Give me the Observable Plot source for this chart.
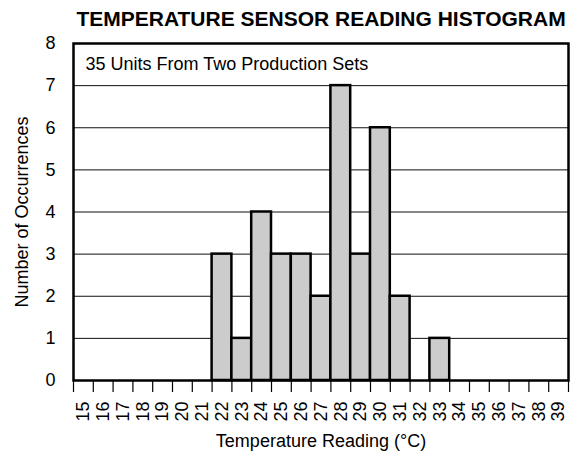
<!DOCTYPE html>
<html>
<head>
<meta charset="utf-8">
<script src="https://cdn.jsdelivr.net/npm/d3@7"></script>
<script src="https://cdn.jsdelivr.net/npm/@observablehq/plot@0.6"></script>
<style>
  html, body { margin: 0; padding: 0; background: #fff; }
</style>
</head>
<body>
<div id="chart"></div>
<script>
const temps = [15,16,17,18,19,20,21,22,23,24,25,26,27,28,29,30,31,32,33,34,35,36,37,38,39];
const counts = [0,0,0,0,0,0,0,3,1,4,3,3,2,7,3,6,2,0,1,0,0,0,0,0,0];
const yTicks = [0,1,2,3,4,5,6,7,8];
const title = "TEMPERATURE SENSOR READING HISTOGRAM";
const subtitle = "35 Units From Two Production Sets";
const xTitle = "Temperature Reading (°C)";
const yTitle = "Number of Occurrences";

const rows = temps.map((t, i) => ({t, n: counts[i]}));
const bars = rows.filter(d => d.n > 0);
const edges = temps.concat([temps[temps.length - 1] + 1]);

const chart = Plot.plot({
  width: 577,
  height: 453,
  marginLeft: 73,
  marginRight: 9,
  marginTop: 43,
  marginBottom: 73,
  style: {fontFamily: "'Liberation Sans', Arial, Helvetica, sans-serif", fontSize: "18px", color: "black", background: "white", overflow: "visible"},
  x: {type: "linear", domain: [temps[0], edges[edges.length - 1]]},
  y: {domain: [0, 8]},
  marks: [
    Plot.ruleY(yTicks.slice(1, -1), {stroke: "#111", strokeWidth: 1}),
    Plot.rectY(bars, {x1: "t", x2: d => d.t + 1, y: "n", fill: "#cccccc", stroke: "black", strokeWidth: 2.5}),
    Plot.axisX({ticks: edges, tickSize: 12, tickFormat: () => "", label: null, stroke: "black", strokeWidth: 1.2}),
    Plot.text(temps, {x: d => d + 0.5, text: d => String(d), frameAnchor: "bottom", rotate: -90, textAnchor: "end", lineAnchor: "middle", dy: 21, fontSize: 18, fill: "black"}),
    Plot.axisY({ticks: yTicks, tickSize: 0, tickPadding: 18, fontSize: 18, label: null, tickFormat: d => String(d)}),
    Plot.frame({stroke: "black", strokeWidth: 2.5}),
    Plot.text([subtitle], {frameAnchor: "top-left", textAnchor: "start", lineAnchor: "middle", dx: 12, dy: 21, fontSize: 18, fill: "black"}),
    Plot.text([title], {frameAnchor: "top", textAnchor: "middle", lineAnchor: "middle", dy: -24, fontSize: 21, fontWeight: "bold", fill: "black"}),
    Plot.text([xTitle], {frameAnchor: "bottom", textAnchor: "middle", lineAnchor: "middle", dy: 61, fontSize: 18, fill: "black"}),
    Plot.text([yTitle], {frameAnchor: "left", rotate: -90, textAnchor: "middle", lineAnchor: "middle", dx: -51, fontSize: 18, fill: "black"})
  ]
});
document.getElementById("chart").appendChild(chart);
</script>
</body>
</html>
